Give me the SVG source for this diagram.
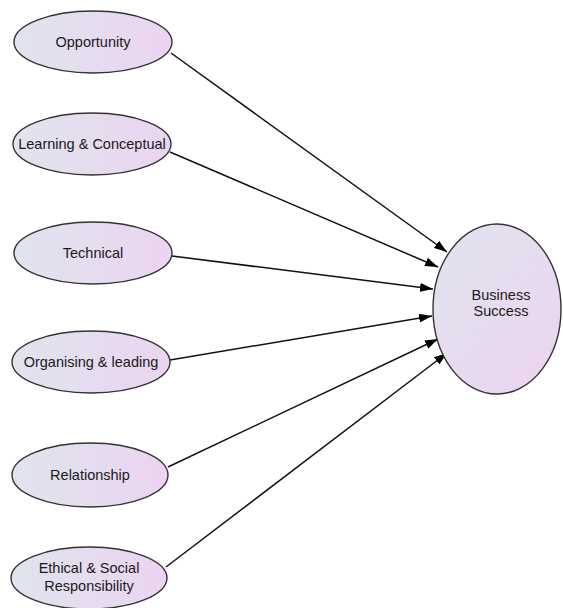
<svg xmlns="http://www.w3.org/2000/svg" width="563" height="608" viewBox="0 0 563 608">
<defs>
<linearGradient id="g" x1="0" y1="0" x2="1" y2="0">
<stop offset="0" stop-color="#e0e4ee"/>
<stop offset="1" stop-color="#ecd4f0"/>
</linearGradient>
<linearGradient id="gb" x1="0" y1="0" x2="1" y2="1">
<stop offset="0" stop-color="#e0e4ee"/>
<stop offset="1" stop-color="#edd3f0"/>
</linearGradient>
<marker id="ah" markerWidth="14" markerHeight="10" refX="13" refY="5" orient="auto" markerUnits="userSpaceOnUse">
<path d="M0,0.5 L13,5 L0,9.5 z" fill="#000"/>
</marker>
<style>
.n{fill:url(#g);stroke:#333;stroke-width:1.4}
.b{fill:url(#gb);stroke:#333;stroke-width:1.4}
.t{font-family:"Liberation Sans",Arial,sans-serif;font-size:14.5px;fill:#1a1a1a;text-anchor:middle}
.c line{stroke:#111;stroke-width:1.5;marker-end:url(#ah)}
</style>
</defs>
<rect width="563" height="608" fill="#fff"/>
<g class="c" id="connectors">
<line x1="171" y1="53" x2="447" y2="252"/>
<line x1="170" y1="152" x2="438" y2="267"/>
<line x1="172" y1="256" x2="433" y2="289"/>
<line x1="170" y1="360" x2="432" y2="316"/>
<line x1="168" y1="467" x2="438" y2="339"/>
<line x1="166" y1="567" x2="447" y2="353"/>
</g>
<g id="opportunity"><ellipse class="n" cx="93" cy="42" rx="79" ry="31"/><text class="t" x="93" y="47">Opportunity</text></g>
<g id="learning"><ellipse class="n" cx="92" cy="144" rx="79" ry="31"/><text class="t" x="92" y="149">Learning &amp; Conceptual</text></g>
<g id="technical"><ellipse class="n" cx="93" cy="253" rx="79" ry="31"/><text class="t" x="93" y="258">Technical</text></g>
<g id="organising"><ellipse class="n" cx="91" cy="362" rx="79" ry="31"/><text class="t" x="91" y="367">Organising &amp; leading</text></g>
<g id="relationship"><ellipse class="n" cx="90" cy="475" rx="78" ry="32"/><text class="t" x="90" y="480">Relationship</text></g>
<g id="ethical"><ellipse class="n" cx="89" cy="578" rx="78" ry="31"/><text class="t" x="89" y="573">Ethical &amp; Social</text><text class="t" x="89" y="591">Responsibility</text></g>
<g id="business"><ellipse class="b" cx="497" cy="309" rx="64" ry="85"/><text class="t" x="501" y="300">Business</text><text class="t" x="501" y="316">Success</text></g>
</svg>
